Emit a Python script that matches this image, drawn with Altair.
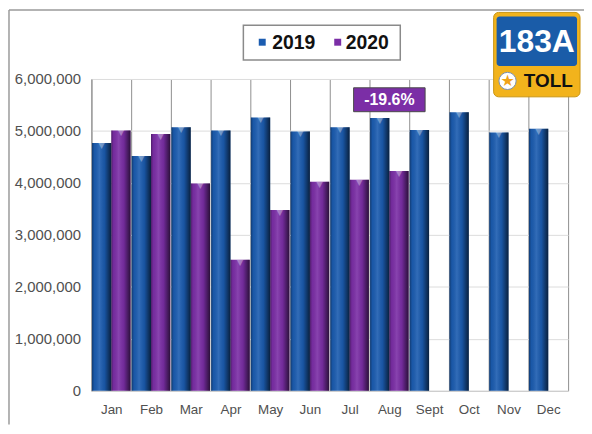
import altair as alt
import pandas as pd

# ---------------- data ----------------
months = ["Jan", "Feb", "Mar", "Apr", "May", "Jun", "Jul", "Aug", "Sept", "Oct", "Nov", "Dec"]
years = ["2019", "2020"]
values_2019 = [4770000, 4520000, 5070000, 5010000, 5260000, 4990000,
               5070000, 5250000, 5020000, 5360000, 4970000, 5040000]
values_2020 = [5010000, 4940000, 3990000, 2520000, 3480000, 4020000,
               4060000, 4230000]
y_ticks = [0, 1000000, 2000000, 3000000, 4000000, 5000000, 6000000]
series_colors = ["#1b5cb0", "#7b2ea6"]
annotation_label = "-19.6%"
annotation_month = "Aug"
annotation_range = [5370000, 5830000]
logo_top = "183A"
logo_bottom = "TOLL"

rows = []
for m, v in zip(months, values_2019):
    rows.append({"month": m, "year": "2019", "value": v})
for m, v in zip(months, values_2020):
    rows.append({"month": m, "year": "2020", "value": v})
df = pd.DataFrame(rows)

FONT = "Liberation Sans"
LABEL = "#505050"

x_enc = alt.X("month:N", sort=months, title=None,
              scale=alt.Scale(paddingInner=0, paddingOuter=0),
              axis=alt.Axis(labelAngle=0, tickBand="extent", grid=True,
                            gridColor="#8f8f8f", gridWidth=1, ticks=False,
                            domainColor="#c8c8c8", labelFont=FONT,
                            labelFontSize=13.5, labelColor=LABEL, labelPadding=12))
y_enc = alt.Y("value:Q", title=None,
              scale=alt.Scale(domain=[0, 6000000], nice=False),
              axis=alt.Axis(values=y_ticks, format=",d", grid=True,
                            gridColor="#dcdcdc", ticks=False,
                            domainColor="#8f8f8f", labelPadding=11,
                            labelFont=FONT, labelFontSize=15, labelColor=LABEL))
xoff = alt.XOffset("year:N", scale=alt.Scale(domain=years, paddingInner=0, paddingOuter=0.03))

bars = alt.Chart(df).mark_bar().encode(
    x=x_enc, y=y_enc, xOffset=xoff,
    color=alt.Color("year:N", scale=alt.Scale(domain=years, range=series_colors), legend=None),
)

shade_grad = alt.Gradient(
    gradient="linear", x1=0, x2=1, y1=0, y2=0,
    stops=[
        alt.GradientStop(offset=0, color="rgba(0,0,0,0.35)"),
        alt.GradientStop(offset=0.12, color="rgba(0,0,0,0.05)"),
        alt.GradientStop(offset=0.38, color="rgba(255,255,255,0.10)"),
        alt.GradientStop(offset=0.65, color="rgba(0,0,0,0.08)"),
        alt.GradientStop(offset=1, color="rgba(0,0,0,0.65)"),
    ],
)
shade = alt.Chart(df).mark_bar(fill=shade_grad).encode(
    x=alt.X("month:N", sort=months), y=alt.Y("value:Q"), xOffset=xoff)

tops = alt.Chart(df).mark_text(text="\u25BC", dy=3, fontSize=8, color="white",
                               opacity=0.35, font="DejaVu Sans").encode(
    x=alt.X("month:N", sort=months), y=alt.Y("value:Q"), xOffset=xoff)

# annotation
ann_df = pd.DataFrame({"month": [annotation_month], "lo": [annotation_range[0]],
                       "hi": [annotation_range[1]], "label": [annotation_label],
                       "mid": [sum(annotation_range) / 2]})
ann_box = alt.Chart(ann_df).mark_bar(width=72, fill="#7b2ea6", stroke="#4a4a4a",
                                     strokeWidth=1).encode(
    x=alt.X("month:N", sort=months), y=alt.Y("lo:Q"), y2="hi:Q")
ann_txt = alt.Chart(ann_df).mark_text(color="white", fontWeight="bold", fontSize=16,
                                      font=FONT, baseline="middle").encode(
    x=alt.X("month:N", sort=months), y=alt.Y("mid:Q"), text="label:N")

one = pd.DataFrame({"k": [0]})

# outer frame
frame_left = alt.Chart(one).mark_rule(color="#9a9a9a", strokeWidth=1.5).encode(
    x=alt.value(-83), y=alt.value(-69.5), y2=alt.value(348))
frame_top = alt.Chart(one).mark_rule(color="#9a9a9a", strokeWidth=1.5).encode(
    x=alt.value(-83), x2=alt.value(496), y=alt.value(-69.5))

# legend (manual box)
leg_box = alt.Chart(one).mark_rect(fill="white", stroke="#8a8a8a", strokeWidth=1.5).encode(
    x=alt.value(153), x2=alt.value(311), y=alt.value(-54), y2=alt.value(-19))
legend_layers = [leg_box]
for yr, col, sx, tx in zip(years, series_colors, [172, 248], [182, 256]):
    legend_layers.append(alt.Chart(one).mark_square(size=49, color=col, opacity=1).encode(
        x=alt.value(sx), y=alt.value(-37)))
    legend_layers.append(alt.Chart(one).mark_text(text=yr, align="left", baseline="middle",
                                                  fontSize=19.5, fontWeight="bold", font=FONT,
                                                  color="#111111").encode(
        x=alt.value(tx), y=alt.value(-36)))

# logo
logo_outer = alt.Chart(one).mark_rect(fill="#f2b31c", stroke="#c99512", strokeWidth=1,
                                      cornerRadius=5).encode(
    x=alt.value(405), x2=alt.value(492), y=alt.value(-67), y2=alt.value(18))
logo_inner = alt.Chart(one).mark_rect(fill="#1a5ca8", cornerRadius=3).encode(
    x=alt.value(408), x2=alt.value(489), y=alt.value(-63), y2=alt.value(-13))
logo_t1 = alt.Chart(one).mark_text(text=logo_top, color="white", fontWeight="bold",
                                   fontSize=32, font=FONT, baseline="middle").encode(
    x=alt.value(448.5), y=alt.value(-37))
logo_circle = alt.Chart(one).mark_point(shape="circle", filled=True, size=300,
                                        fill="white", stroke="#7a8fb0", strokeWidth=1,
                                        opacity=1).encode(
    x=alt.value(419), y=alt.value(2))
logo_star = alt.Chart(one).mark_text(text="\u2605", color="#f0a318", fontSize=16,
                                     font="DejaVu Sans", baseline="middle").encode(
    x=alt.value(419), y=alt.value(2))
logo_t2 = alt.Chart(one).mark_text(text=logo_bottom, color="#111111", fontWeight="bold",
                                   fontSize=19, font=FONT, baseline="middle").encode(
    x=alt.value(460), y=alt.value(2.5))

chart = alt.layer(
    bars, shade, tops, ann_box, ann_txt,
    frame_left, frame_top, *legend_layers,
    logo_outer, logo_inner, logo_t1, logo_circle, logo_star, logo_t2,
).properties(
    width=480, height=314,
    autosize=alt.AutoSizeParams(type="none"),
    padding={"left": 84, "top": 70, "right": 16, "bottom": 34},
).configure_view(strokeWidth=0)

chart.save("out.html", embed_options={"renderer": "svg", "actions": False})
